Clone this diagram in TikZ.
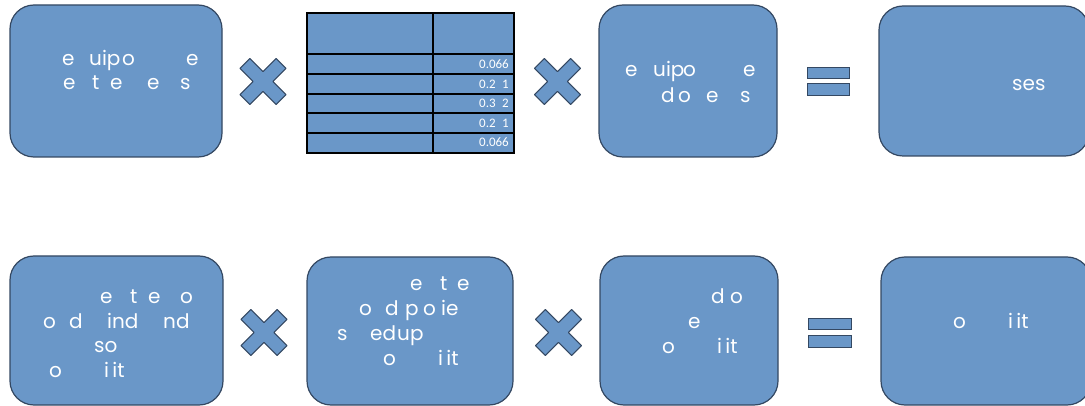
\documentclass[tikz,border=0pt]{standalone}
\usepackage{fontspec}
\setmainfont{Poppins}
\newfontfamily\numfont{Carlito}
\definecolor{boxblue}{RGB}{106,151,200}
\definecolor{boxedge}{RGB}{52,72,98}
\newcommand\tx[4]{\node[txt] (#1) at (#2,#3) {#4};}
\newcommand\crossat[3]{\coordinate (#1) at (#2,#3);\draw[times,shift={(#2,#3)},rotate=45] (7,7)--(25.5,7)--(25.5,-7)--(7,-7)--(7,-25.5)--(-7,-25.5)--(-7,-7)--(-25.5,-7)--(-25.5,7)--(-7,7)--(-7,25.5)--(7,25.5)--cycle;}
\begin{document}
\begin{tikzpicture}[x=1pt,y=-1pt,
 card/.style={draw=boxedge,fill=boxblue,line width=1.2pt,rounded corners=24pt,inner sep=0pt},
 txt/.style={anchor=base west,inner sep=0pt,text=white,font=\fontsize{20}{24}\selectfont},
 num/.style={anchor=base east,inner sep=0pt,text=white,font=\numfont\fontsize{13}{15}\selectfont},
 times/.style={draw=boxedge,fill=boxblue,line width=1pt,line join=round},
 eqbar/.style={draw=boxedge,fill=boxblue,line width=1pt,inner sep=0pt}]
\useasboundingbox (0,0) rectangle (1085,406);
\begin{scope}
\clip (0,0) rectangle (1085,406);
% top row cards
\node[card,minimum width=212pt,minimum height=152pt] (b1) at (116,81) {};
\node[card,minimum width=178pt,minimum height=152pt] (b2) at (688,81) {};
\node[card,minimum width=210pt,minimum height=150pt] (b3) at (984,81) {};
% bottom row cards
\node[card,minimum width=213pt,minimum height=149pt] (b4) at (116.5,330.5) {};
\node[card,minimum width=206pt,minimum height=148pt] (b5) at (410,331) {};
\node[card,minimum width=178pt,minimum height=149pt] (b6) at (689,330.5) {};
\node[card,minimum width=210pt,minimum height=148pt] (b7) at (986,331) {};
\end{scope}
% table
\fill[boxblue] (307,13) rectangle (514,153);
\draw[black,line width=2pt] (307,13) rectangle (514,153);
\draw[black,line width=2pt] (433,13) -- (433,153);
\foreach \yy in {54,74.5,94,113.5,133} \draw[black,line width=2pt] (307,\yy) -- (514,\yy);
\node[num] (n1) at (509,68.5) {0.066};
\node[num] (n2) at (509,88.2) {0.2\phantom{0}1};
\node[num] (n3) at (509,107.8) {0.3\phantom{0}2};
\node[num] (n4) at (509,127.3) {0.2\phantom{0}1};
\node[num] (n5) at (509,147) {0.066};
% crosses
\crossat{c1}{263}{81.5}
\crossat{c2}{557.5}{81.5}
\crossat{c3}{264}{332.5}
\crossat{c4}{558.5}{332.5}
% equals
\node[eqbar,draw,minimum width=42pt,minimum height=11pt] (e1) at (828,73.5) {};
\node[eqbar,draw,minimum width=42pt,minimum height=12pt] (e2) at (828,90) {};
\node[eqbar,draw,minimum width=43pt,minimum height=11pt] (e3) at (829.5,323.5) {};
\node[eqbar,draw,minimum width=43pt,minimum height=12pt] (e4) at (829.5,341) {};
% box 1 text
\tx{a1}{62}{66}{e}\tx{a2}{89}{66}{uip}\tx{a3}{122}{66}{o}\tx{a4}{186}{66}{e}
\tx{a5}{63}{90}{e}\tx{a6}{92}{90}{t}\tx{a7}{110}{90}{e}\tx{a8}{147}{90}{e}\tx{a9}{180}{90}{s}
% box 2 text
\tx{b2a}{625}{77}{e}\tx{b2b}{653}{77}{uip}\tx{b2c}{683}{77}{o}\tx{b2d}{743}{77}{e}
\tx{b2e}{661}{103}{d}\tx{b2f}{678}{103}{o}\tx{b2g}{706}{103}{e}\tx{b2h}{740}{103}{s}
% box 3 text
\tx{b3a}{1012}{90.5}{ses}
% box 4 text
\tx{d1}{100}{303.5}{e}\tx{d2}{130}{303.5}{t}\tx{d3}{148}{303.5}{e}\tx{d4}{180}{303.5}{o}
\tx{d5}{43}{328.5}{o}\tx{d6}{69}{328.5}{d}\tx{d7}{107}{328.5}{ind}\tx{d8}{163}{328.5}{nd}
\tx{d9}{94}{352.5}{so}
\tx{d10}{49}{377.5}{o}\tx{d11}{104}{377.5}{i\,it}
% box 5 text
\tx{f1}{410}{290.5}{e}\tx{f2}{440}{290.5}{t}\tx{f3}{457}{290.5}{e}
\tx{f4}{359}{315.5}{o}\tx{f5}{385}{315.5}{d}\tx{f6}{405}{315.5}{p}\tx{f7}{423}{315.5}{o}\tx{f8}{441}{315.5}{ie}
\tx{f9}{337}{340.5}{s}\tx{f10}{370}{340.5}{ed}\tx{f11}{397}{340.5}{up}
\tx{f12}{383}{365.5}{o}\tx{f13}{438}{365.5}{i\,it}
% box 6 text
\tx{g1}{711}{303.5}{d}\tx{g2}{730}{303.5}{o}
\tx{g3}{688}{328.5}{e}
\tx{g4}{662}{353.5}{o}\tx{g5}{717}{353.5}{i\,it}
% box 7 text
\tx{h1}{953}{328.5}{o}\tx{h2}{1008}{328.5}{i\,it}
\end{tikzpicture}
\end{document}
